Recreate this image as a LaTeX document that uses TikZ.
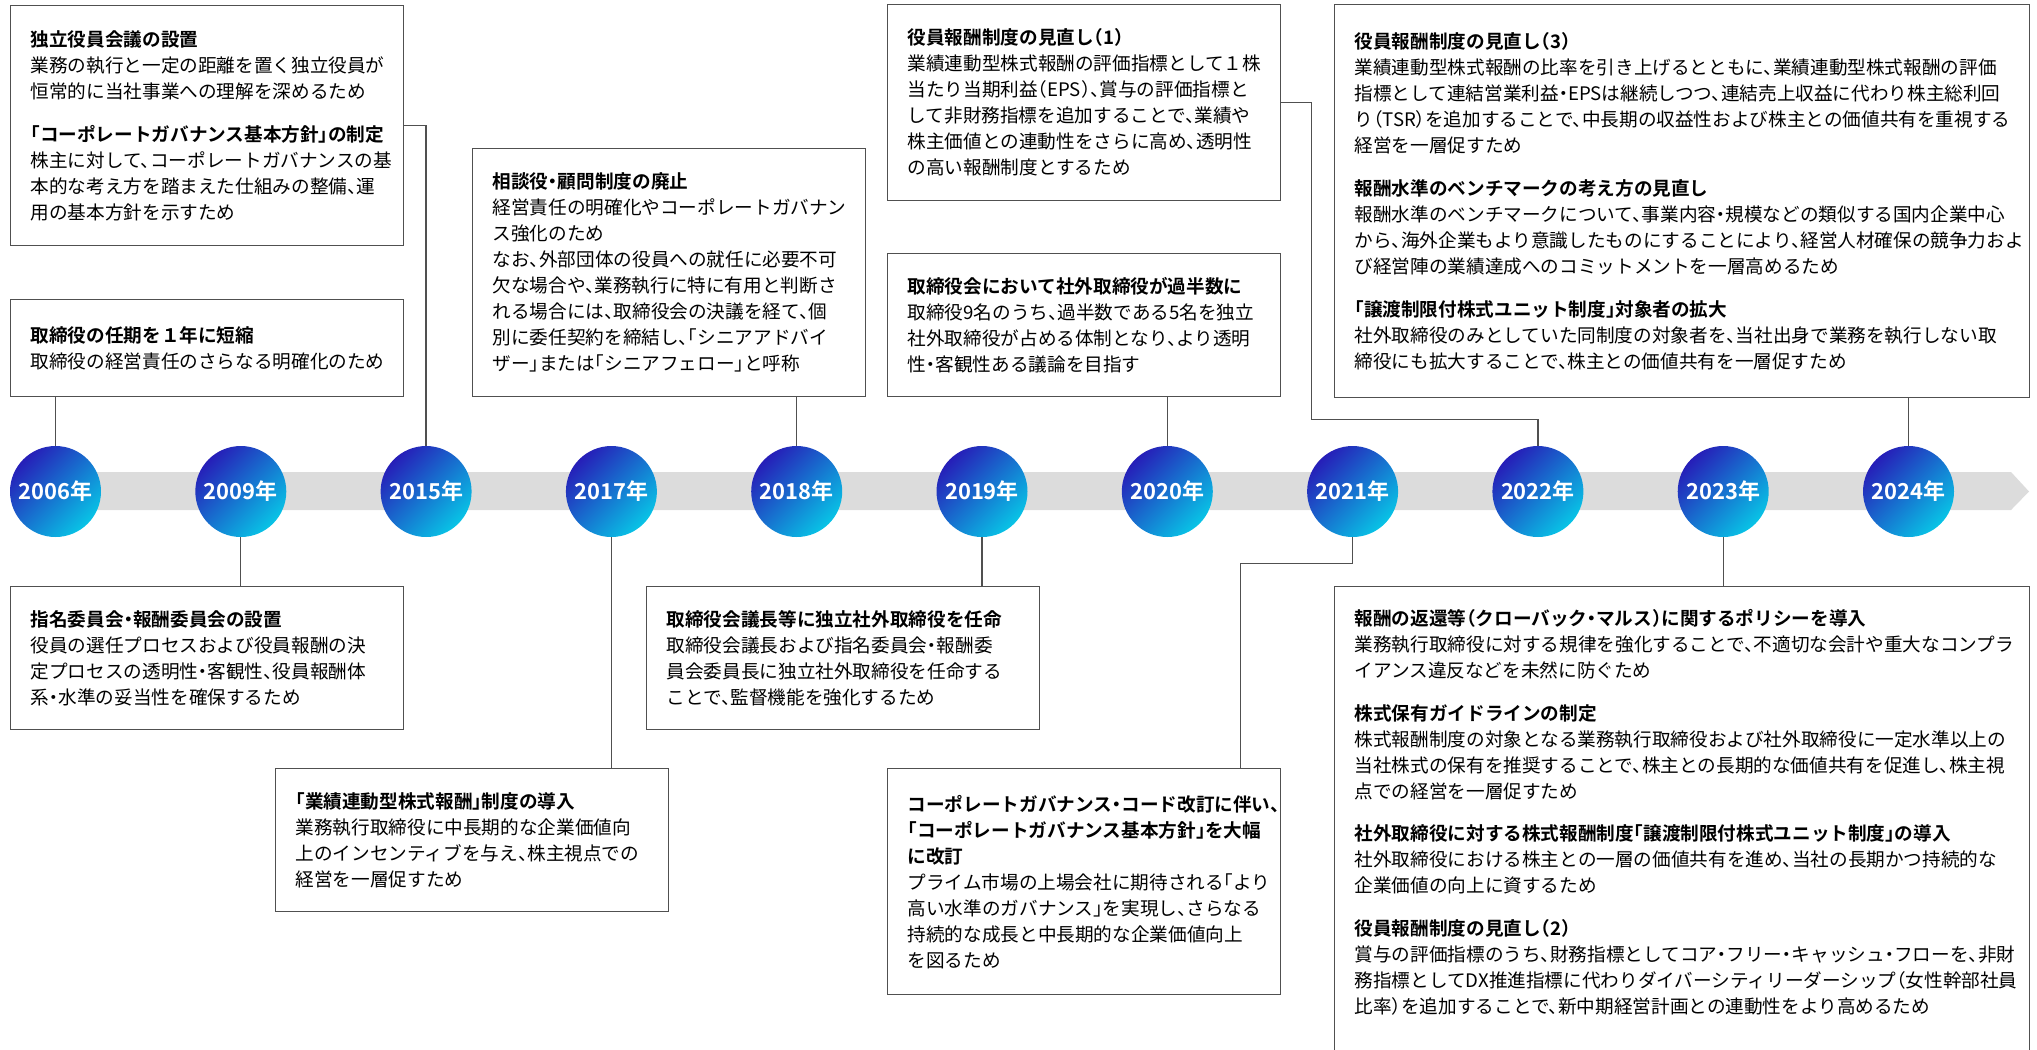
\documentclass[tikz,border=0pt]{standalone}
\usepackage{fontspec}
\setmainfont{Noto Sans CJK JP}[RawFeature=+halt, BoldFont={Noto Sans CJK JP Bold}]
\usetikzlibrary{calc}
\definecolor{yeardark}{RGB}{38, 30, 184}
\definecolor{yearlight}{RGB}{8, 196, 230}
\definecolor{bandgray}{RGB}{220, 220, 220}
\definecolor{linegray}{RGB}{80, 80, 80}

\begin{document}
\begin{tikzpicture}[
  x=0.02cm, y=-0.02cm,
  evbox/.style={draw=linegray, line width=0.8pt, fill=white, anchor=north west, text width=#1, align=left, inner xsep=0.4cm, inner ysep=0.3cm, font=\fontsize{10.6}{14.8}\selectfont},
  evbox/.default=7.06cm,
  yearnode/.style={circle, minimum size=1.82cm, inner sep=0pt, top color=yeardark, bottom color=yearlight, shading angle=45, text=white, font=\bfseries\fontsize{12.5}{14}\selectfont},
  link/.style={draw=linegray, line width=0.7pt}
]
  \useasboundingbox (0,0) rectangle (2037,1049);
  \clip (0,0) rectangle (2037,1049);

  \fill[bandgray] (55,472) -- (2011,472) -- (2029,491.5) -- (2011,510) -- (55,510) -- cycle;

  \node[yearnode] (c2006) at (55.5,491.5) {2006年};
  \node[yearnode] (c2009) at (240.8,491.5) {2009年};
  \node[yearnode] (c2015) at (426.1,491.5) {2015年};
  \node[yearnode] (c2017) at (611.4,491.5) {2017年};
  \node[yearnode] (c2018) at (796.7,491.5) {2018年};
  \node[yearnode] (c2019) at (982.0,491.5) {2019年};
  \node[yearnode] (c2020) at (1167.3,491.5) {2020年};
  \node[yearnode] (c2021) at (1352.6,491.5) {2021年};
  \node[yearnode] (c2022) at (1537.9,491.5) {2022年};
  \node[yearnode] (c2023) at (1723.2,491.5) {2023年};
  \node[yearnode] (c2024) at (1908.5,491.5) {2024年};

  \node[evbox, minimum height=4.8cm] (b2015) at (10,5) {
    \textbf{独立役員会議の設置}\\
    業務の執行と一定の距離を置く独立役員が\\
    恒常的に当社事業への理解を深めるため\\[9.5pt]
    \textbf{「コーポレートガバナンス基本方針」の制定}\\
    株主に対して、コーポレートガバナンスの基\\
    本的な考え方を踏まえた仕組みの整備、運\\
    用の基本方針を示すため
  };
  \node[evbox, minimum height=1.94cm] (b2006) at (10,299) {
    \textbf{取締役の任期を１年に短縮}\\
    取締役の経営責任のさらなる明確化のため
  };
  \node[evbox, minimum height=4.96cm] (b2018) at (472,148) {
    \textbf{相談役・顧問制度の廃止}\\
    経営責任の明確化やコーポレートガバナン\\
    ス強化のため\\
    なお、外部団体の役員への就任に必要不可\\
    欠な場合や、業務執行に特に有用と判断さ\\
    れる場合には、取締役会の決議を経て、個\\
    別に委任契約を締結し、「シニアアドバイ\\
    ザー」または「シニアフェロー」と呼称
  };
  \node[evbox, minimum height=3.92cm] (b2022) at (887,4) {
    \textbf{役員報酬制度の見直し（1）}\\
    業績連動型株式報酬の評価指標として１株\\
    当たり当期利益（EPS）、賞与の評価指標と\\
    して非財務指標を追加することで、業績や\\
    株主価値との連動性をさらに高め、透明性\\
    の高い報酬制度とするため
  };
  \node[evbox, minimum height=2.86cm] (b2020) at (887,253) {
    \textbf{取締役会において社外取締役が過半数に}\\
    取締役9名のうち、過半数である5名を独立\\
    社外取締役が占める体制となり、より透明\\
    性・客観性ある議論を目指す
  };
  \node[evbox=13.1cm, minimum height=7.86cm] (b2024) at (1334,4) {
    \textbf{役員報酬制度の見直し（3）}\\
    業績連動型株式報酬の比率を引き上げるとともに、業績連動型株式報酬の評価\\
    指標として連結営業利益・EPSは継続しつつ、連結売上収益に代わり株主総利回\\
    り（TSR）を追加することで、中長期の収益性および株主との価値共有を重視する\\
    経営を一層促すため\\[9.5pt]
    \textbf{報酬水準のベンチマークの考え方の見直し}\\
    報酬水準のベンチマークについて、事業内容・規模などの類似する国内企業中心\\
    から、海外企業もより意識したものにすることにより、経営人材確保の競争力およ\\
    び経営陣の業績達成へのコミットメントを一層高めるため\\[9.5pt]
    \textbf{「譲渡制限付株式ユニット制度」対象者の拡大}\\
    社外取締役のみとしていた同制度の対象者を、当社出身で業務を執行しない取\\
    締役にも拡大することで、株主との価値共有を一層促すため
  };
  \node[evbox, minimum height=2.86cm] (b2009) at (10,586) {
    \textbf{指名委員会・報酬委員会の設置}\\
    役員の選任プロセスおよび役員報酬の決\\
    定プロセスの透明性・客観性、役員報酬体\\
    系・水準の妥当性を確保するため
  };
  \node[evbox, minimum height=2.86cm] (b2017) at (275,768) {
    \textbf{「業績連動型株式報酬」制度の導入}\\
    業務執行取締役に中長期的な企業価値向\\
    上のインセンティブを与え、株主視点での\\
    経営を一層促すため
  };
  \node[evbox, minimum height=2.86cm] (b2019) at (646,586) {
    \textbf{取締役会議長等に独立社外取締役を任命}\\
    取締役会議長および指名委員会・報酬委\\
    員会委員長に独立社外取締役を任命する\\
    ことで、監督機能を強化するため
  };
  \node[evbox, minimum height=4.52cm] (b2021) at (887,768) {
    \textbf{コーポレートガバナンス・コード改訂に伴い、}\\
    \textbf{「コーポレートガバナンス基本方針」を大幅}\\
    \textbf{に改訂}\\
    プライム市場の上場会社に期待される「より\\
    高い水準のガバナンス」を実現し、さらなる\\
    持続的な成長と中長期的な企業価値向上\\
    を図るため
  };
  \node[evbox=13.1cm, inner ysep=0.45cm] (b2023) at (1334,586) {
    \textbf{報酬の返還等（クローバック・マルス）に関するポリシーを導入}\\
    業務執行取締役に対する規律を強化することで、不適切な会計や重大なコンプラ\\
    イアンス違反などを未然に防ぐため\\[9.5pt]
    \textbf{株式保有ガイドラインの制定}\\
    株式報酬制度の対象となる業務執行取締役および社外取締役に一定水準以上の\\
    当社株式の保有を推奨することで、株主との長期的な価値共有を促進し、株主視\\
    点での経営を一層促すため\\[9.5pt]
    \textbf{社外取締役に対する株式報酬制度「譲渡制限付株式ユニット制度」の導入}\\
    社外取締役における株主との一層の価値共有を進め、当社の長期かつ持続的な\\
    企業価値の向上に資するため\\[9.5pt]
    \textbf{役員報酬制度の見直し（2）}\\
    賞与の評価指標のうち、財務指標としてコア・フリー・キャッシュ・フローを、非財\\
    務指標としてDX推進指標に代わりダイバーシティリーダーシップ（女性幹部社員\\
    比率）を追加することで、新中期経営計画との連動性をより高めるため\\[30pt]
    \mbox{}
  };

  \draw[link] (b2006.south -| c2006) -- (c2006.north);
  \draw[link] (b2015.east) -| (c2015.north);
  \draw[link] (b2018.south -| c2018) -- (c2018.north);
  \draw[link] (b2022.east) -- ++(30,0) |- ($(c2022.north)+(0,-26)$) -- (c2022.north);
  \draw[link] (b2020.south -| c2020) -- (c2020.north);
  \draw[link] (b2024.south -| c2024) -- (c2024.north);
  \draw[link] (c2009.south) -- (c2009.south |- b2009.north);
  \draw[link] (c2017.south) -- (c2017.south |- b2017.north);
  \draw[link] (c2019.south) -- (c2019.south |- b2019.north);
  \draw[link] (c2021.south) -- ++(0,26) -| ($(b2021.north east)+(-41,0)$);
  \draw[link] (c2023.south) -- (c2023.south |- b2023.north);
\end{tikzpicture}
\end{document}
